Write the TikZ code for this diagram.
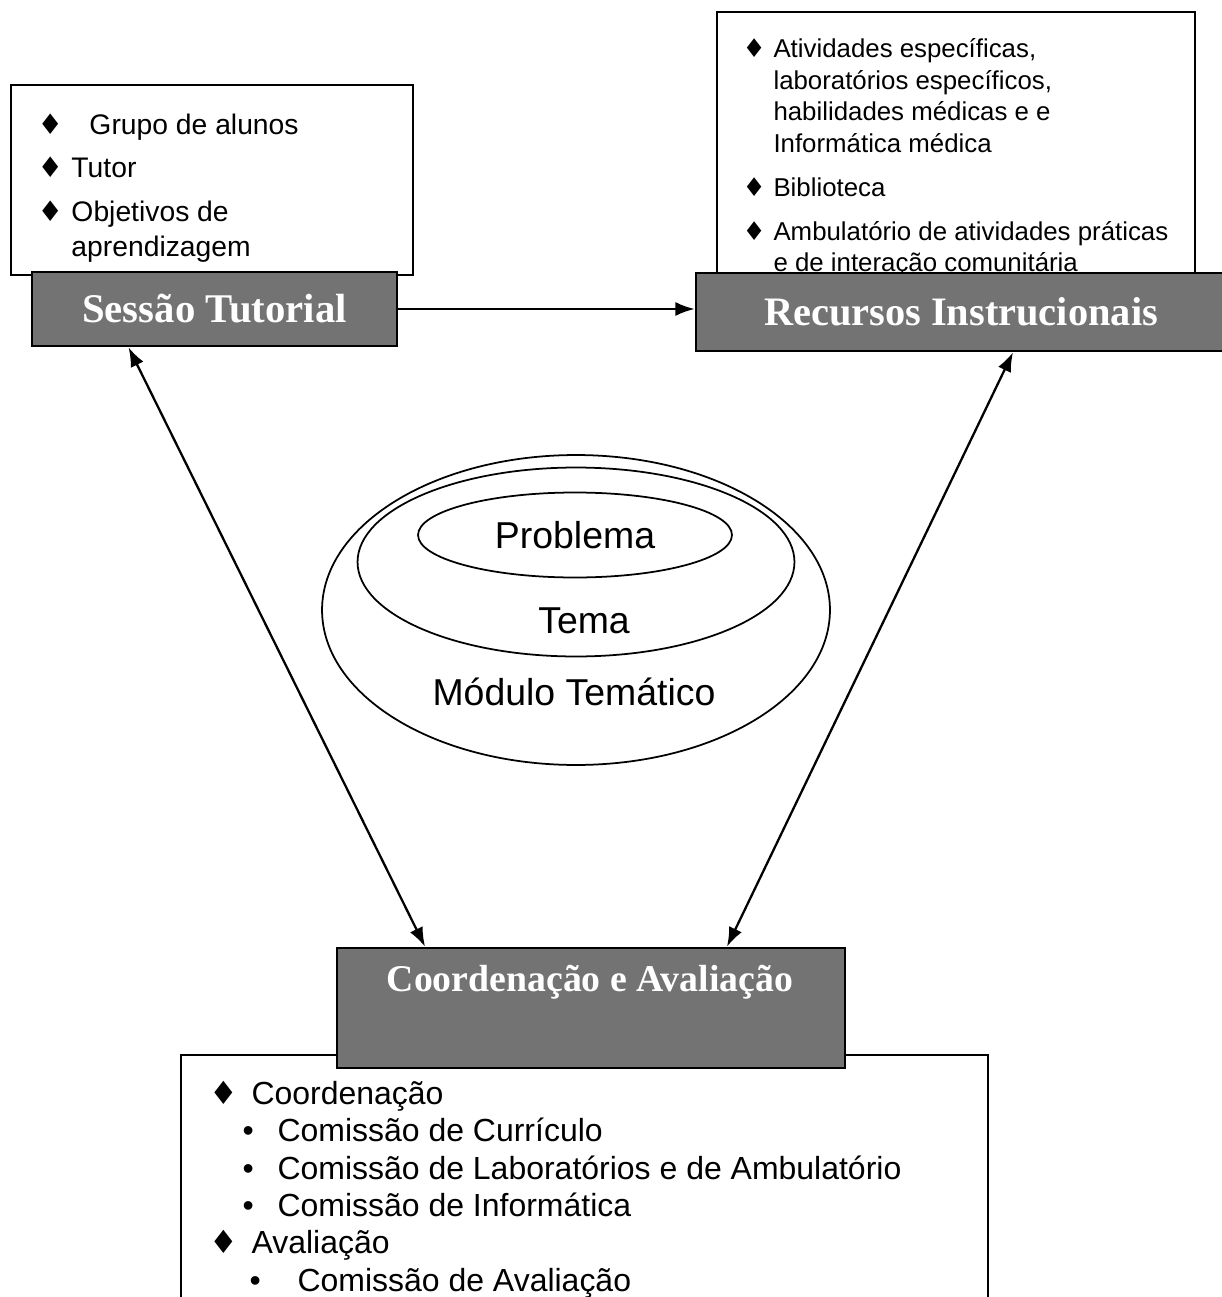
\documentclass[tikz,border=0pt]{standalone}
\usepackage{fontspec}
\setmainfont{Liberation Sans}
\newfontfamily\titlefont{Liberation Serif}
\newfontfamily\symfont{DejaVu Sans}
\usetikzlibrary{shapes}
\usetikzlibrary{arrows.meta}
\usetikzlibrary{calc,positioning}

\newcommand{\dia}{{\symfont ♦}}

\begin{document}
\begin{tikzpicture}[x=0.02cm, y=-0.02cm]
	\tikzstyle{titlebox}=[fill=black!55, draw, line width=1.5pt, rectangle, inner sep=0pt, text=white]
	\tikzstyle{listbox}=[fill=white, draw, line width=1pt, rectangle, inner sep=0pt]
	\tikzstyle{items}=[inner sep=0pt]
	\tikzstyle{ring}=[ellipse, draw, line width=1pt, inner sep=0pt, font=\fontsize{21.3}{25}\selectfont]
	\tikzstyle{ringtext}=[font=\fontsize{21.3}{25}\selectfont, anchor=base]
	\tikzstyle{link}=[line width=1.3pt, >={Latex[length=11pt,width=8pt]}]

	\useasboundingbox (0,0) rectangle (1222,1297);

	% boxes with the lists
	\node[listbox, minimum width=8.04cm, minimum height=3.8cm] (sessaoList) at (212,180) {};
	\node[items, below right=0.51cm and 0.54cm of sessaoList.north west, font=\fontsize{16.1}{19.8}\selectfont] (sessaoItems) {%
		\begin{tabular}{@{}l@{}l@{}}
		\makebox[0.68cm][l]{\dia} & \hspace{0.36cm}Grupo de alunos\\[5pt]
		\makebox[0.68cm][l]{\dia} & Tutor\\[5pt]
		\makebox[0.68cm][l]{\dia} & Objetivos de\\
		 & aprendizagem
		\end{tabular}};

	\node[listbox, minimum width=9.56cm, minimum height=5.7cm] (recursosList) at (956,154.5) {};
	\node[items, below right=0.48cm and 0.52cm of recursosList.north west, font=\fontsize{14.7}{18}\selectfont] (recursosItems) {%
		\begin{tabular}{@{}l@{}l@{}}
		\makebox[0.62cm][l]{\dia} & Atividades específicas,\\
		 & laboratórios específicos,\\
		 & habilidades médicas e e\\
		 & Informática médica\\[7pt]
		\makebox[0.62cm][l]{\dia} & Biblioteca\\[7pt]
		\makebox[0.62cm][l]{\dia} & Ambulatório de atividades práticas\\
		 & e de interação comunitária
		\end{tabular}};

	\node[listbox, minimum width=16.14cm, minimum height=5.9cm] (coordList) at (584.5,1202.5) {};
	\node[items, below right=0.47cm and 0.58cm of coordList.north west, font=\fontsize{18.2}{21.3}\selectfont] (coordItems) {%
		\begin{tabular}{@{}l@{}}
		\makebox[0.84cm][l]{\dia}Coordenação\\
		\hspace{0.66cm}\makebox[0.7cm][l]{•}Comissão de Currículo\\
		\hspace{0.66cm}\makebox[0.7cm][l]{•}Comissão de Laboratórios e de Ambulatório\\
		\hspace{0.66cm}\makebox[0.7cm][l]{•}Comissão de Informática\\
		\makebox[0.84cm][l]{\dia}Avaliação\\
		\hspace{0.8cm}\makebox[0.96cm][l]{•}Comissão de Avaliação
		\end{tabular}};

	% grey title boxes
	\node[titlebox, minimum width=7.3cm, minimum height=1.48cm, font=\titlefont\bfseries\fontsize{23.2}{27}\selectfont] (sessaoTitle) at (214.5,309) {Sessão Tutorial};
	\node[titlebox, minimum width=10.6cm, minimum height=1.56cm, font=\titlefont\bfseries\fontsize{23}{27}\selectfont] (recursosTitle) at (961,312) {Recursos Instrucionais};
	\node[titlebox, minimum width=10.16cm, minimum height=2.4cm] (coordTitle) at (591,1008) {};
	\node[text=white, font=\titlefont\bfseries\fontsize{21.5}{25}\selectfont] (coordText) at (590,982) {Coordenação e Avaliação};

	% the rings in the middle
	\node[ring, minimum width=10.16cm, minimum height=6.2cm] (moduloRing) at (576,610) {};
	\node[ring, minimum width=8.74cm, minimum height=3.78cm] (temaRing) at (576,562) {};
	\node[ring, minimum width=6.28cm, minimum height=1.7cm] (problemaRing) at (575,535) {Problema};
	\node[ringtext] (temaText) at (584,633) {Tema};
	\node[ringtext] (moduloText) at (574,705) {Módulo Temático};

	\draw[link, ->] (sessaoTitle.east) -- (recursosTitle.west |- sessaoTitle.east);
	\draw[link, <->] ([xshift=-1.72cm]sessaoTitle.south) -- ([xshift=-3.32cm]coordTitle.north);
	\draw[link, <->] ([xshift=1.04cm]recursosTitle.south) -- ([xshift=2.72cm]coordTitle.north);

\end{tikzpicture}
\end{document}
